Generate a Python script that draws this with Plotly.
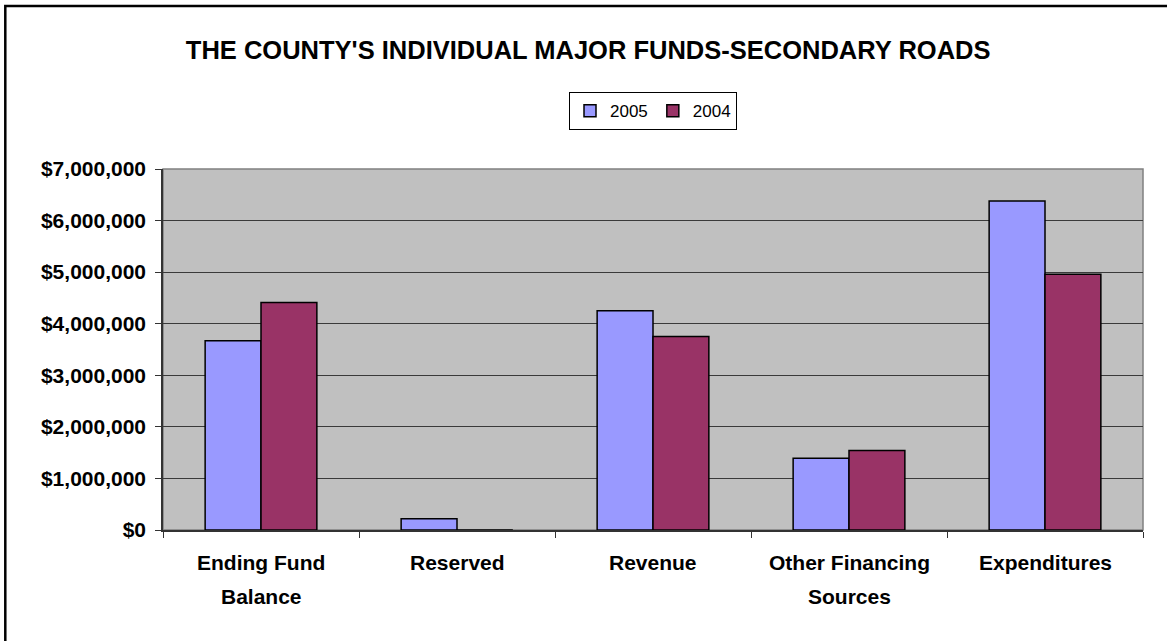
import plotly.graph_objects as go

# categories and values
categories = ["Ending Fund Balance", "Reserved", "Revenue", "Other Financing Sources", "Expenditures"]
label_lines = [["Ending Fund", "Balance"], ["Reserved"], ["Revenue"], ["Other Financing", "Sources"], ["Expenditures"]]
values_2005 = [3670000, 220000, 4250000, 1390000, 6380000]
values_2004 = [4410000, 0, 3750000, 1540000, 4960000]

FONT = "Arial, Liberation Sans, sans-serif"
COLOR_2005 = "#9999FF"
COLOR_2004 = "#993366"

fig = go.Figure()
fig.add_trace(go.Bar(x=categories, y=values_2005, name="2005",
                     marker=dict(color=COLOR_2005, line=dict(color="black", width=1.5))))
fig.add_trace(go.Bar(x=categories, y=values_2004, name="2004",
                     marker=dict(color=COLOR_2004, line=dict(color="black", width=1.5))))

# category labels below the axis, one annotation per text line (wider line spacing than plotly's)
for cat, lines in zip(categories, label_lines):
    for i, line in enumerate(lines):
        fig.add_annotation(x=cat, xref="x", y=0, yref="paper", yanchor="top",
                           yshift=-18.5 - 34.5 * i, text=line, showarrow=False,
                           font=dict(family=FONT, size=21, color="black", weight="bold"))

# plot area frame (gray top/right) and outer chart border
fig.add_shape(type="rect", xref="paper", yref="paper", x0=0, x1=1, y0=0, y1=1,
              line=dict(color="#808080", width=1.5), layer="below")
fig.add_shape(type="rect", xref="paper", yref="paper",
              x0=(5.3 - 163) / 980, x1=(1175 - 163) / 980,
              y0=(530.5 - 650) / 361.5, y1=(530.5 - 5.7) / 361.5,
              line=dict(color="black", width=2.5), layer="above")

fig.update_layout(
    width=1167, height=641,
    margin=dict(l=163, r=24, t=169, b=111),
    paper_bgcolor="white",
    plot_bgcolor="#C0C0C0",
    barmode="group", bargap=0.43, bargroupgap=0,
    font=dict(family=FONT, color="black"),
    title=dict(text="<b>THE COUNTY'S INDIVIDUAL MAJOR FUNDS-SECONDARY ROADS</b>",
               x=0.504, xanchor="center", y=1 - 50.5 / 641, yanchor="middle",
               font=dict(family=FONT, size=25.5, color="black")),
    legend=dict(orientation="h", x=0.5, xanchor="center", y=(530.5 - 92) / 361.5, yanchor="top",
                bgcolor="white", bordercolor="black", borderwidth=1,
                font=dict(family=FONT, size=17, color="black"), traceorder="normal"),
    showlegend=True,
)
fig.update_xaxes(showticklabels=False, ticks="outside", tickson="boundaries", ticklen=6,
                 tickcolor="#333333", showline=True, linecolor="#333333", linewidth=1.5,
                 showgrid=False)
fig.update_yaxes(range=[0, 7000000], dtick=1000000, tickprefix="$", tickformat=",d",
                 ticks="outside", ticklen=6, tickcolor="#333333",
                 showline=True, linecolor="#333333", linewidth=1.5,
                 gridcolor="#3a3a3a", gridwidth=1, zeroline=False,
                 tickfont=dict(family=FONT, size=21, color="black", weight="bold"),
                 ticklabelstandoff=5)

# drop the page's default body margin so the figure sits at the window's top-left corner
fig.write_html("out.html", config={"displayModeBar": False},
               post_script="document.body.style.margin='0';")
